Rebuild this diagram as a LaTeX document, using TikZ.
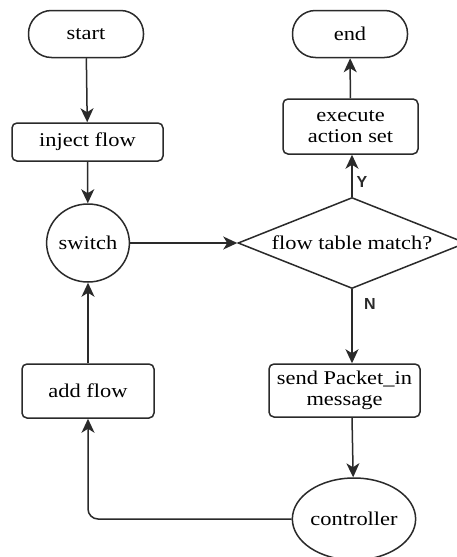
\documentclass[tikz,border=0pt]{standalone}
\usepackage{fontspec}
\setmainfont{Liberation Serif}[FakeStretch=1.15]
\newfontfamily\labelfont{Liberation Sans}
\usetikzlibrary{shapes.geometric,arrows.meta}
\definecolor{linec}{HTML}{2A2A2A}
\tikzset{
  base/.style={draw=linec, line width=1.5pt, fill=white, inner sep=0pt, align=center,
    font=\fontsize{19.5}{21}\selectfont, text=black},
  term/.style={base, rectangle, rounded corners=23pt, minimum width=115pt, minimum height=47pt},
  proc/.style={base, rectangle, rounded corners=5pt},
  oval/.style={base, ellipse},
  decision/.style={base, diamond, aspect=2.5, minimum width=228pt, minimum height=91pt},
  conn/.style={draw=linec, line width=1.5pt, -{Stealth[length=14pt,width=13pt,inset=4pt]}},
  yn/.style={font=\labelfont\bfseries\fontsize{16}{16}\selectfont, text=linec, inner sep=0pt}
}
\begin{document}
\begin{tikzpicture}[x=1pt,y=-1pt]
\path[clip] (0,0) rectangle (457,557);
\fill[white] (0,0) rectangle (457,557);
\node[term] (start) at (86,34) {start};
\node[term] (end) at (350,34) {end};
\node[proc, minimum width=151pt, minimum height=38pt] (inject) at (87.5,142) {inject flow};
\node[oval, minimum width=79pt, minimum height=78pt] (switch) at (88,243) {switch};
\node[decision] (match) at (352,243) {flow table match?};
\node[proc, minimum width=135pt, minimum height=55pt] (exec) at (350.5,126.5) {execute\\action set};
\node[proc, minimum width=151pt, minimum height=53pt] (send) at (344.5,390.5) {send Packet\_in\\message};
\node[proc, minimum width=132pt, minimum height=54pt] (add) at (88,391) {add flow};
\node[oval, minimum width=98pt, minimum height=82pt] (ctrl) at (354,519) {controller};
\draw[conn] (start) -- (inject);
\draw[conn] (inject) -- (switch);
\draw[conn] (switch) -- (match);
\draw[conn] (match.north) -- (match.north |- exec.south);
\draw[conn] (exec) -- (end);
\draw[conn] (match.south) -- (match.south |- send.north);
\draw[conn] (match.south |- send.south) -- (ctrl);
\draw[conn, rounded corners=10pt] (ctrl.west) -| (add.south);
\draw[conn] (add) -- (switch);
\node[yn] (ylab) at (362,182) {Y};
\node[yn] (nlab) at (370,304) {N};
\end{tikzpicture}
\end{document}
